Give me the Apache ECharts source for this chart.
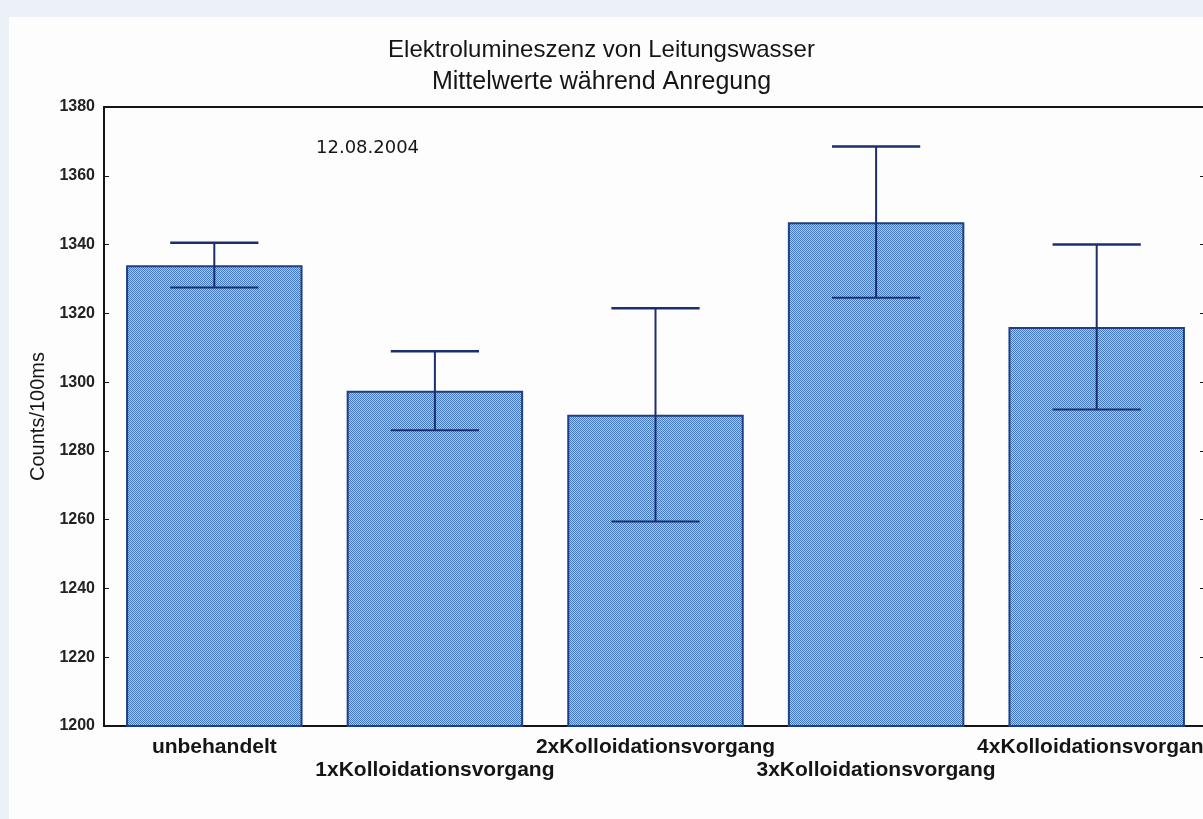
<!DOCTYPE html>
<html>
<head>
<meta charset="utf-8">
<script src="https://cdn.jsdelivr.net/npm/echarts@6/dist/echarts.min.js"></script>
<style>
  html, body { margin: 0; padding: 0; background: #ecf1f7; }
  #chart { width: 1203px; height: 819px; }
</style>
</head>
<body>
<div id="chart"></div>
<script>
// Mean electroluminescence counts per 100 ms, with +/- spread
const categories = [
  'unbehandelt',
  '1xKolloidationsvorgang',
  '2xKolloidationsvorgang',
  '3xKolloidationsvorgang',
  '4xKolloidationsvorgang'
];
const means  = [1334, 1297.5, 1290.5, 1346.5, 1316];
const errors = [6.5, 11.5, 31, 22, 24];

// value axis range and step
const yMin = 1200;
const yMax = 1380;
const yStep = 20;

const titleLine1 = 'Elektrolumineszenz von Leitungswasser';
const titleLine2 = 'Mittelwerte während Anregung';
const yAxisTitle = 'Counts/100ms';
const dateNote = '12.08.2004';

// fine dithered mesh used as bar fill
function meshPattern() {
  const c = document.createElement('canvas');
  c.width = 4; c.height = 4;
  const g = c.getContext('2d');
  g.fillStyle = '#a3c9ee';
  g.fillRect(0, 0, 4, 4);
  g.fillStyle = '#4479bd';
  for (let y = 0; y < 4; y++) {
    for (let x = 0; x < 4; x++) {
      if ((x + y) % 2 === 0) g.fillRect(x, y, 1, 1);
    }
  }
  return c;
}

const chart = echarts.init(document.getElementById('chart'), null, { renderer: 'canvas' });
const ink = '#151515';
const navy = '#1c2f6c';
const sans = '"Liberation Sans", Arial, sans-serif';

const option = {
  backgroundColor: '#ecf1f7',
  animation: false,
  title: {
    text: titleLine1,
    subtext: titleLine2,
    left: 'center',
    top: 33,
    itemGap: 8,
    textStyle: { fontFamily: sans, fontSize: 24, fontWeight: 'normal', color: ink },
    subtextStyle: { fontFamily: sans, fontSize: 25, color: ink }
  },
  graphic: [
    {
      type: 'rect', z: -10, silent: true,
      shape: { x: 9, y: 17, width: 1194, height: 802 },
      style: { fill: '#fdfdfd' }
    },
    {
      type: 'text', left: 316, top: 139, z: 5,
      style: { text: dateNote, font: '18px "DejaVu Sans", sans-serif', fill: ink }
    }
  ],
  // plot frame runs a few pixels past the right edge of the page
  grid: {
    left: 104, width: 1103, top: 107, bottom: 93,
    containLabel: false,
    outerBoundsMode: 'none'
  },
  xAxis: [
    {
      type: 'category',
      data: categories,
      position: 'bottom',
      axisLine: { lineStyle: { color: ink, width: 2 } },
      axisTick: { inside: true, length: 5, lineStyle: { color: ink } },
      axisLabel: {
        interval: 0,
        margin: 10,
        fontFamily: sans,
        fontSize: 21,
        fontWeight: 'bold',
        color: ink,
        lineHeight: 23,
        formatter: (v, i) => (i % 2 === 1 ? '\n' + v : v)
      }
    },
    {
      type: 'category',
      data: categories,
      position: 'top',
      axisLine: { lineStyle: { color: ink, width: 2 } },
      axisTick: { inside: true, length: 6, lineStyle: { color: ink } },
      axisLabel: { show: false }
    }
  ],
  yAxis: [
    {
      type: 'value',
      min: yMin, max: yMax, interval: yStep,
      name: yAxisTitle,
      nameLocation: 'middle',
      nameGap: 56,
      nameTextStyle: { fontFamily: sans, fontSize: 20, color: ink },
      axisLine: { show: true, lineStyle: { color: ink, width: 2 } },
      axisTick: { show: true, inside: true, length: 5, lineStyle: { color: ink } },
      splitLine: { show: false },
      axisLabel: {
        margin: 9, fontFamily: sans, fontSize: 16, fontWeight: 'bold', color: '#222',
        formatter: v => String(v)
      }
    },
    {
      type: 'value',
      min: yMin, max: yMax, interval: yStep,
      position: 'right',
      axisLine: { show: true, lineStyle: { color: ink, width: 2 } },
      axisTick: { show: true, inside: true, length: 7, lineStyle: { color: ink } },
      splitLine: { show: false },
      axisLabel: { show: false }
    }
  ],
  series: [
    {
      type: 'bar',
      data: means,
      barWidth: '80%',
      itemStyle: {
        color: { image: meshPattern(), repeat: 'repeat' },
        borderColor: '#203f82',
        borderWidth: 2
      }
    },
    {
      type: 'custom',
      z: 10,
      data: means.map((m, i) => [i, m - errors[i], m + errors[i]]),
      encode: { x: 0, y: [1, 2] },
      renderItem(params, api) {
        const i = api.value(0);
        const lo = api.coord([i, api.value(1)]);
        const hi = api.coord([i, api.value(2)]);
        const half = api.size([1, 0])[0] * 0.2;
        const style = { stroke: navy, lineWidth: 2 };
        return {
          type: 'group',
          children: [
            { type: 'line', shape: { x1: hi[0], y1: hi[1], x2: lo[0], y2: lo[1] }, style },
            { type: 'line', shape: { x1: hi[0] - half, y1: hi[1], x2: hi[0] + half, y2: hi[1] }, style: { stroke: navy, lineWidth: 2.5 } },
            { type: 'line', shape: { x1: lo[0] - half, y1: lo[1], x2: lo[0] + half, y2: lo[1] }, style }
          ]
        };
      }
    }
  ]
};

chart.setOption(option);
</script>
</body>
</html>
